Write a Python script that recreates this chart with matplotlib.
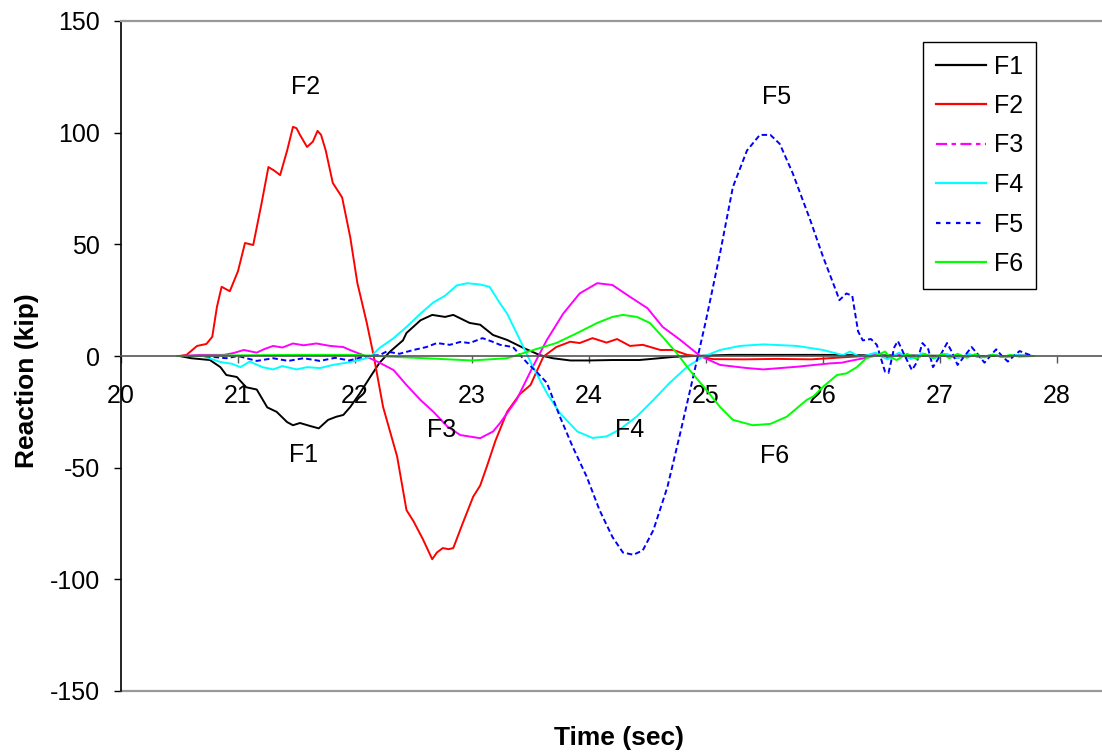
import matplotlib
matplotlib.use('Agg')
import matplotlib.pyplot as plt
from matplotlib.lines import Line2D

plt.rcParams['font.family'] = ['Liberation Sans', 'DejaVu Sans']
plt.rcParams['axes.unicode_minus'] = False

# Reaction histories (time in sec, reaction in kip)
t1 = [20.5, 20.6, 20.76, 20.85, 20.9, 20.99, 21.07, 21.16, 21.25, 21.33, 21.42, 21.47, 21.53,
      21.62, 21.69, 21.77, 21.84, 21.9, 21.96, 22.04, 22.13, 22.21, 22.3, 22.41, 22.44, 22.56,
      22.66, 22.77, 22.84, 22.98, 23.07, 23.18, 23.3, 23.44, 23.58, 23.69, 23.84, 24.0, 24.2,
      24.43, 24.6, 24.72, 24.9, 25.2, 25.6, 26.0, 26.4, 26.8, 27.2, 27.6, 27.8]
f1 = [0, -1, -1.8, -5, -8.5, -9.4, -14, -15, -23, -25, -29.6, -31, -30,
      -31.4, -32.4, -28.6, -27.2, -26.4, -22.8, -16.8, -9.4, -3, 2, 7, 10.3, 16,
      18.4, 17.5, 18.4, 14.8, 14, 9.4, 7.2, 3.6, 0.4, -1, -2, -2, -1.8,
      -1.8, -1, -0.4, 0, 0.5, 0.5, 0.5, 0.3, 0.2, 0, 0, 0]

t2 = [20.5, 20.56, 20.65, 20.73, 20.78, 20.82, 20.86, 20.93, 21.0, 21.06, 21.13, 21.2, 21.26,
      21.31, 21.36, 21.42, 21.47, 21.5, 21.53, 21.59, 21.64, 21.68, 21.71, 21.75, 21.81, 21.89,
      21.96, 22.02, 22.1, 22.16, 22.24, 22.36, 22.44, 22.5, 22.58, 22.66, 22.7, 22.75, 22.8,
      22.84, 22.92, 23.01, 23.07, 23.13, 23.2, 23.3, 23.41, 23.5, 23.61, 23.72, 23.84, 23.92,
      24.03, 24.15, 24.24, 24.35, 24.46, 24.61, 24.72, 24.84, 24.93, 25.06, 25.33, 25.6, 25.9,
      26.2, 26.35, 26.45, 26.55, 26.65, 26.75, 26.85, 26.95, 27.05, 27.15, 27.25, 27.35, 27.45,
      27.55, 27.65, 27.8]
f2 = [0, 0.5, 4.5, 5.4, 8.6, 22, 31, 29, 38, 50.6, 49.7, 68, 84.6,
      83, 81, 92, 102.6, 102, 99, 93.6, 96, 100.8, 99, 92, 77.5, 71,
      53, 32.7, 15, 0, -22.8, -45, -69, -74, -82, -91, -88, -86, -86.5,
      -86, -75, -63, -58, -49, -38, -25, -17, -13, -0.3, 4, 6.4, 5.8,
      8, 6, 7.6, 4.5, 5, 2.7, 2.7, 0.5, 0, -1.4, -1.5, -1.3, -1.5,
      -0.5, 0, 1, -1, 1, -1, 0.8, -0.8, 0.8, -0.8, 0.6, -0.6, 0.5,
      -0.5, 0.3, 0]

t3 = [20.5, 20.68, 20.8, 20.88, 20.96, 21.05, 21.16, 21.22, 21.3, 21.38, 21.47, 21.56, 21.67,
      21.79, 21.9, 21.98, 22.07, 22.21, 22.33, 22.44, 22.56, 22.67, 22.79, 22.9, 23.07, 23.18,
      23.24, 23.38, 23.52, 23.64, 23.78, 23.92, 24.07, 24.2, 24.35, 24.5, 24.63, 24.78, 24.95,
      25.12, 25.35, 25.49, 25.78, 26.06, 26.16, 26.23, 26.35, 26.45, 26.55, 26.65, 26.75,
      26.85, 26.95, 27.05, 27.15, 27.25, 27.35, 27.45, 27.55, 27.65, 27.8]
f3 = [0, 0.5, 0.5, 0.5, 1.3, 2.7, 1.5, 3, 4.5, 3.8, 5.6, 4.8, 5.6,
      4.5, 4, 2.2, 0.4, -3, -6.3, -13, -19.7, -25, -31.6, -35.4, -36.8, -33.8,
      -30, -19.7, -4.8, 7.2, 19, 28, 32.6, 31.8, 26.5, 21.4, 13, 7.2, 0,
      -4, -5.4, -6, -4.8, -3.3, -3, -2.2, -1, 1, -1.2, 1, -1,
      1, -0.8, 0.8, -0.8, 0.6, -0.6, 0.5, -0.4, 0.3, 0]

t4 = [20.5, 20.7, 20.85, 20.95, 21.02, 21.1, 21.21, 21.3, 21.38, 21.5, 21.59, 21.7, 21.81,
      21.93, 22.04, 22.13, 22.21, 22.33, 22.44, 22.56, 22.67, 22.77, 22.87, 22.96, 23.07, 23.15,
      23.24, 23.3, 23.41, 23.52, 23.64, 23.75, 23.9, 24.03, 24.15, 24.26, 24.41, 24.55, 24.69,
      24.84, 24.97, 25.12, 25.29, 25.49, 25.78, 26.0, 26.17, 26.23, 26.32, 26.45, 26.55, 26.65,
      26.75, 26.85, 26.95, 27.05, 27.15, 27.25, 27.35, 27.45, 27.55, 27.65, 27.8]
f4 = [0, 0, -2.7, -3.5, -5, -2.5, -5, -6, -4.5, -6, -5, -5.4, -4,
      -3, -1.8, -0.4, 3.6, 8, 13, 19, 24, 27, 31.6, 32.6, 32, 31,
      23.5, 19, 7.2, -4.8, -16.6, -25.5, -33.8, -36.7, -36, -33, -27, -19.7, -12,
      -4.8, -0.4, 2.7, 4.5, 5.2, 4.5, 2.7, 0.4, 2, -0.5, 1.5, -1.5, 1.5,
      -1.3, 1.2, -1.1, 1, -0.9, 0.8, -0.7, 0.6, -0.5, 0.4, 0]

t5 = [20.5, 20.7, 20.9, 21.0, 21.16, 21.3, 21.43, 21.56, 21.7, 21.83, 21.95, 22.1, 22.21,
      22.27, 22.38, 22.5, 22.61, 22.7, 22.81, 22.9, 22.98, 23.09, 23.18, 23.24, 23.35, 23.47,
      23.55, 23.64, 23.75, 23.86, 23.98, 24.09, 24.2, 24.29, 24.38, 24.46, 24.55, 24.67, 24.78,
      24.89, 25.0, 25.12, 25.23, 25.35, 25.46, 25.55, 25.63, 25.74, 25.89, 26.0, 26.12, 26.14,
      26.2, 26.25, 26.3, 26.34, 26.41, 26.46, 26.53, 26.56, 26.61, 26.64, 26.7, 26.76, 26.8,
      26.85, 26.9, 26.94, 27.0, 27.06, 27.1, 27.15, 27.21, 27.27, 27.32, 27.38, 27.43, 27.48,
      27.53, 27.58, 27.63, 27.68, 27.74, 27.79]
f5 = [0, 0, -1, 0, -2.2, -1, -2.2, -1, -2.2, -0.8, -2, 0, 0.4,
      2, 1, 2.7, 4, 5.8, 5, 6.3, 5.8, 8, 6.3, 5, 4, -3,
      -7, -12, -27, -40.6, -54, -69, -81, -88, -89, -87, -78, -58.7, -34.5,
      -9.4, 16, 46, 75.7, 92, 99, 99, 95, 82, 61, 44.5, 28, 25,
      28, 27, 11, 7, 7.6, 5, -7, -7.6, 4, 6.7, 0, -6.3, -3,
      5.8, 3, -5, 0, 5.8, 2, -4, 0, 4, 1, -3, 0, 3,
      0, -2.5, 0, 2.2, 1, 0]

t6 = [20.48, 21.0, 21.5, 22.0, 22.3, 22.6, 23.0, 23.3, 23.44, 23.58, 23.72, 23.9, 24.07,
      24.2, 24.29, 24.41, 24.52, 24.63, 24.75, 24.86, 25.0, 25.12, 25.23, 25.4, 25.55, 25.69,
      25.86, 25.92, 26.0, 26.12, 26.2, 26.29, 26.37, 26.47, 26.53, 26.57, 26.63, 26.72, 26.8,
      26.87, 26.94, 27.02, 27.08, 27.15, 27.23, 27.3, 27.38, 27.45, 27.53, 27.6, 27.68, 27.8]
f6 = [0, 0.3, 0.5, 0.5, -0.3, -1, -2, -1, 1.3, 3.6, 5.8, 10.3, 14.8,
      17.5, 18.4, 17.5, 14.8, 8.5, 1.3, -6.3, -15, -22.8, -28.6, -31, -30.4, -27.2,
      -19.7, -18, -13.8, -8.5, -7.8, -5, -1, 0.5, 2, -0.4, -1.8, 1, -1.3,
      1, -1, 1, -1, 1, -0.8, 0.8, -0.6, 0.6, -0.5, 0.5, -0.3, 0]

series = [
    ('F1', t1, f1, '#000000', '-', '-'),
    ('F2', t2, f2, '#FF0000', '-', '-'),
    ('F3', t3, f3, '#FF00FF', '-', (0, (5, 2, 2, 2))),
    ('F4', t4, f4, '#00FFFF', '-', '-'),
    ('F5', t5, f5, '#0000FF', (0, (2.8, 1.6)), (0, (2, 2.5))),
    ('F6', t6, f6, '#00FF00', '-', '-'),
]

# labels placed next to the curves
tag_names = ['F2', 'F1', 'F3', 'F4', 'F5', 'F6']
tag_x = [21.58, 21.56, 22.74, 24.35, 25.6, 25.59]
tag_y = [120.5, -44.3, -33, -33, 116, -44.8]

fig = plt.figure(figsize=(11.02, 7.53), dpi=100)
ax = fig.add_axes([121 / 1102, 1 - 691 / 753, 1 - 121 / 1102, 670 / 753])

handles = []
for name, t, f, c, ls, leg_ls in series:
    ax.plot(t, f, color=c, linestyle=ls, linewidth=1.4)
    handles.append(Line2D([], [], color=c, linestyle=leg_ls, linewidth=1.6, label=name))

for name, x, y in zip(tag_names, tag_x, tag_y):
    ax.text(x, y, name, fontsize=18, ha='center', va='center')

ax.set_xlim(20, 20 + (1102 - 121) / 117)
ax.set_ylim(-150, 150)
ax.set_xticks(range(20, 29))
ax.set_yticks(range(-150, 151, 50))

ax.spines['bottom'].set_position(('data', 0))
ax.spines['bottom'].set_color('#555555')
ax.spines['bottom'].set_linewidth(1.2)
ax.spines['top'].set_color('#999999')
ax.spines['top'].set_linewidth(1.6)
ax.spines['right'].set_visible(False)
ax.spines['left'].set_color('#000000')
ax.spines['left'].set_linewidth(1.2)
ax.axhline(-150, color='#999999', linewidth=1.6, clip_on=False)

ax.tick_params(axis='x', direction='out', length=5, width=1, color='#555555',
               labelsize=18, pad=15)
ax.tick_params(axis='y', direction='out', length=5, width=1, labelsize=18, pad=10)

fig.text(27 / 1102, 1 - 381 / 753, 'Reaction (kip)', fontsize=19, fontweight='bold',
         rotation=90, ha='center', va='center')
fig.text(619 / 1102, 1 - 738 / 753, 'Time (sec)', fontsize=19, fontweight='bold',
         ha='center', va='center')

leg = ax.legend(handles=handles, loc='upper left',
                bbox_to_anchor=(923 / 1102, 1 - 42 / 753), bbox_transform=fig.transFigure,
                fontsize=18, frameon=True, fancybox=False, framealpha=1,
                handlelength=2.0, handletextpad=0.35, labelspacing=0.62,
                borderpad=0.5, borderaxespad=0)
leg.get_frame().set_edgecolor('#000000')
leg.get_frame().set_linewidth(1.0)

fig.savefig('out.png', dpi=100)
